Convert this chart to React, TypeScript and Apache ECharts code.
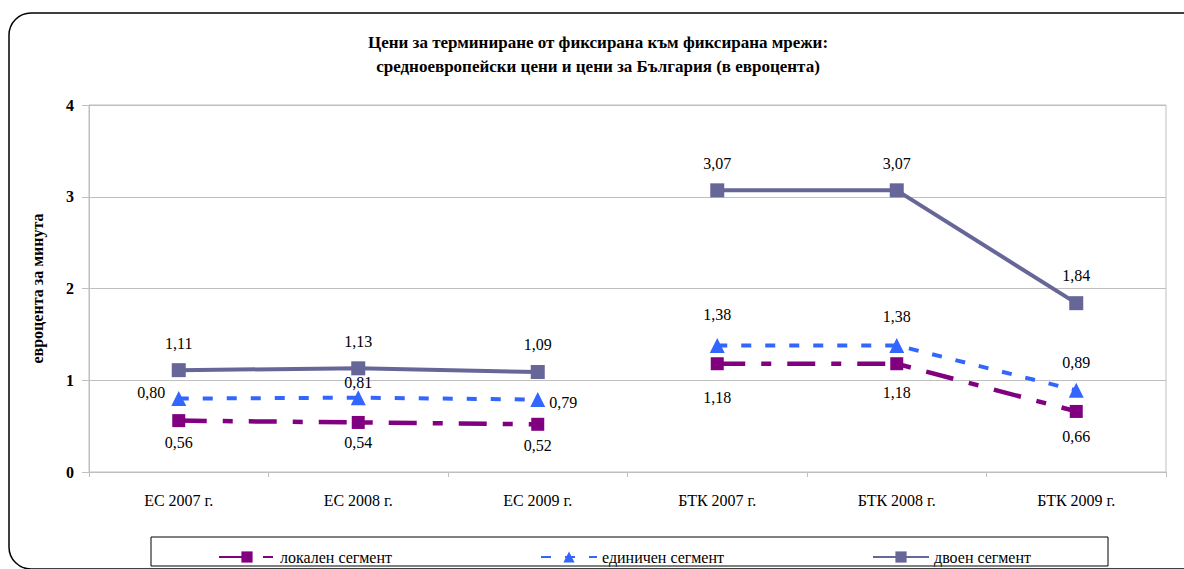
import React, { useEffect, useRef } from "react";
import * as echarts from "echarts";

const titleLines = [
  "Цени за терминиране от фиксирана към фиксирана мрежи:",
  "средноевропейски цени и цени за България (в евроцента)",
];
const yAxisName = "евроцента за минута";
const categories = ["ЕС 2007 г.", "ЕС 2008 г.", "ЕС 2009 г.", "БТК 2007 г.", "БТК 2008 г.", "БТК 2009 г."];
const yTicks = [0, 1, 2, 3, 4];

const localName = "локален сегмент";
const localValues = [0.56, 0.54, 0.52, 1.18, 1.18, 0.66];
const singleName = "единичен сегмент";
const singleValues = [0.8, 0.81, 0.79, 1.38, 1.38, 0.89];
const doubleName = "двоен сегмент";
const doubleValues = [1.11, 1.13, 1.09, 3.07, 3.07, 1.84];

const groups = [
  [0, 1, 2],
  [3, 4, 5],
];

const FONT = "Liberation Serif";

type Place = { position: string; distance: number; offset?: [number, number] };

const localPlace: Place[] = [
  { position: "bottom", distance: 7 },
  { position: "bottom", distance: 6 },
  { position: "bottom", distance: 7 },
  { position: "bottom", distance: 19 },
  { position: "bottom", distance: 14 },
  { position: "bottom", distance: 11 },
];
const singlePlace: Place[] = [
  { position: "left", distance: 6, offset: [0, -6] },
  { position: "top", distance: 0 },
  { position: "right", distance: 4, offset: [0, 3] },
  { position: "top", distance: 15 },
  { position: "top", distance: 13 },
  { position: "top", distance: 12 },
];
const doublePlace: Place[] = [
  { position: "top", distance: 12 },
  { position: "top", distance: 12 },
  { position: "top", distance: 12 },
  { position: "top", distance: 12 },
  { position: "top", distance: 12 },
  { position: "top", distance: 13 },
];

const fmt = (v: number) => v.toFixed(2).replace(".", ",");

function buildSeries(
  name: string,
  values: number[],
  places: Place[],
  color: string,
  symbol: string,
  symbolSize: number,
  lineType: any,
  lineWidth: number
) {
  return groups.map((idx) => ({
    type: "line",
    name,
    symbol,
    symbolSize,
    color,
    itemStyle: { color },
    lineStyle: { color, width: lineWidth, type: lineType },
    data: categories.map((_, i) => {
      if (!idx.includes(i)) return "-";
      const p = places[i];
      return {
        value: values[i],
        label: {
          show: true,
          position: p.position,
          distance: p.distance,
          offset: p.offset || [0, 0],
          formatter: () => fmt(values[i]),
          color: "#000",
          fontFamily: FONT,
          fontSize: 16,
        },
      };
    }),
  }));
}

export default function App() {
  const ref = useRef<HTMLDivElement>(null);
  useEffect(() => {
    if (!ref.current) return;
    const chart = echarts.init(ref.current, null, { renderer: "svg" });
    const legendCommon = {
      top: 544,
      itemWidth: 56,
      itemHeight: 14,
      textStyle: { fontFamily: FONT, fontSize: 16, color: "#000" },
      selectedMode: false,
    };
    const titleStyle = (text: string) => ({
      text,
      fill: "#000",
      fontFamily: FONT,
      fontSize: 17,
      fontWeight: "bold",
      align: "center",
      verticalAlign: "middle",
    });
    chart.setOption({
      animation: false,
      backgroundColor: "#fff",
      textStyle: { fontFamily: FONT },
      graphic: [
        {
          type: "rect",
          shape: { x: 9, y: 13, width: 1220, height: 556, r: 22 },
          style: { fill: "none", stroke: "#000", lineWidth: 1.5 },
          silent: true,
        },
        {
          type: "rect",
          shape: { x: 151, y: 537, width: 957, height: 29 },
          style: { fill: "none", stroke: "#000", lineWidth: 1 },
          silent: true,
        },
        { type: "text", x: 598, y: 42, style: titleStyle(titleLines[0]) },
        { type: "text", x: 598, y: 66, style: titleStyle(titleLines[1]) },
      ],
      legend: [
        { ...legendCommon, left: 213, data: [localName] },
        { ...legendCommon, left: 535, data: [singleName] },
        { ...legendCommon, left: 867, data: [doubleName] },
      ],
      grid: {
        left: 89,
        right: 18,
        top: 105,
        bottom: 97,
        show: true,
        borderColor: "#bfbfbf",
        borderWidth: 1,
        containLabel: false,
      },
      xAxis: {
        type: "category",
        data: categories,
        boundaryGap: true,
        axisLine: { lineStyle: { color: "#bfbfbf" } },
        axisTick: { show: true, length: 5, lineStyle: { color: "#bfbfbf" } },
        axisLabel: { color: "#000", fontFamily: FONT, fontSize: 16, margin: 20 },
      },
      yAxis: {
        type: "value",
        min: yTicks[0],
        max: yTicks[yTicks.length - 1],
        interval: 1,
        name: yAxisName,
        nameLocation: "middle",
        nameGap: 44,
        nameTextStyle: { color: "#000", fontFamily: FONT, fontSize: 16, fontWeight: "bold" },
        axisLine: { show: true, lineStyle: { color: "#bfbfbf" } },
        axisTick: { show: true, length: 7, lineStyle: { color: "#bfbfbf" } },
        splitLine: { lineStyle: { color: "#bfbfbf" } },
        axisLabel: { color: "#000", fontFamily: FONT, fontSize: 16, fontWeight: "bold", margin: 15 },
      },
      series: [
        ...buildSeries(localName, localValues, localPlace, "#800080", "rect", 13, [28, 16, 10, 16], 4.5),
        ...buildSeries(singleName, singleValues, singlePlace, "#3366ff", "triangle", 15, [10, 14], 4),
        ...buildSeries(doubleName, doubleValues, doublePlace, "#666699", "rect", 14, "solid", 4),
      ],
    });
    return () => chart.dispose();
  }, []);
  return (
    <div
      ref={ref}
      style={{ position: "fixed", left: 0, top: 0, width: 1184, height: 569, background: "#fff" }}
    />
  );
}
